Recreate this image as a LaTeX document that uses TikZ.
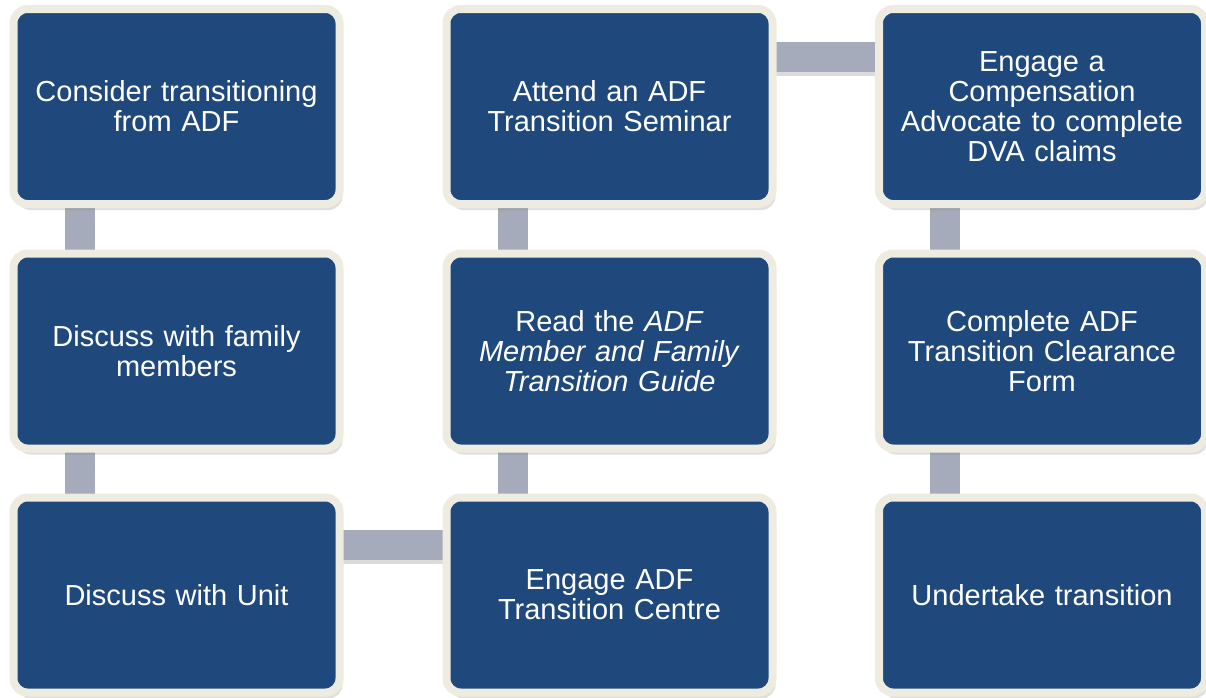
\documentclass[tikz,border=0pt]{standalone}
\usepackage{fontspec}
\setmainfont{Liberation Sans}
\usetikzlibrary{backgrounds,shadows}
\definecolor{boxblue}{RGB}{31,73,125}
\definecolor{boxcream}{RGB}{238,236,225}
\definecolor{linkgray}{RGB}{165,171,186}
\tikzset{
  stepbox/.style={rectangle, rounded corners=14pt, fill=boxblue, draw=boxcream,
    line width=8pt, minimum width=326pt, minimum height=195pt, inner sep=0pt,
    text width=316pt, align=center, text=white,
    font=\fontsize{29}{30}\selectfont,
    drop shadow={shadow xshift=3pt, shadow yshift=-6pt, opacity=0.25}},
  link/.style={draw=linkgray, line width=30pt,
    preaction={draw=black!40, opacity=0.35, line width=30pt, transform canvas={yshift=-4pt}}}
}
\begin{document}
\begin{tikzpicture}[x=1pt,y=-1pt]
\useasboundingbox (0,0) rectangle (1206,697);

\node[stepbox] (r1c1) at (176.5,106.5) {Consider transitioning\\from ADF};
\node[stepbox] (r2c1) at (176.5,351) {Discuss with family\\members};
\node[stepbox] (r3c1) at (176.5,595) {Discuss with Unit};

\node[stepbox] (r3c2) at (609.5,595) {Engage ADF\\Transition Centre};
\node[stepbox] (r2c2) at (609.5,351) {Read the \textit{ADF}\\\textit{Member and Family}\\\textit{Transition Guide}};
\node[stepbox] (r1c2) at (609.5,106.5) {Attend an ADF\\Transition Seminar};

\node[stepbox] (r1c3) at (1042,106.5) {Engage a\\Compensation\\Advocate to complete\\DVA claims};
\node[stepbox] (r2c3) at (1042,351) {Complete ADF\\Transition Clearance\\Form};
\node[stepbox] (r3c3) at (1042,595) {Undertake transition};

% connectors behind the boxes
\begin{scope}[on background layer]
\draw[link] ([xshift=-96.5pt]r1c1.center) -- ([xshift=-96.5pt]r2c1.center);
\draw[link] ([xshift=-96.5pt]r2c1.center) -- ([xshift=-96.5pt]r3c1.center);
\draw[link] ([yshift=50pt]r3c1.center) -- ([yshift=50pt]r3c2.center);
\draw[link] ([xshift=-97pt]r3c2.center) -- ([xshift=-97pt]r2c2.center);
\draw[link] ([xshift=-97pt]r2c2.center) -- ([xshift=-97pt]r1c2.center);
\draw[link] ([yshift=50pt]r1c2.center) -- ([yshift=50pt]r1c3.center);
\draw[link] ([xshift=-97pt]r1c3.center) -- ([xshift=-97pt]r2c3.center);
\draw[link] ([xshift=-97pt]r2c3.center) -- ([xshift=-97pt]r3c3.center);
\end{scope}
\end{tikzpicture}
\end{document}
